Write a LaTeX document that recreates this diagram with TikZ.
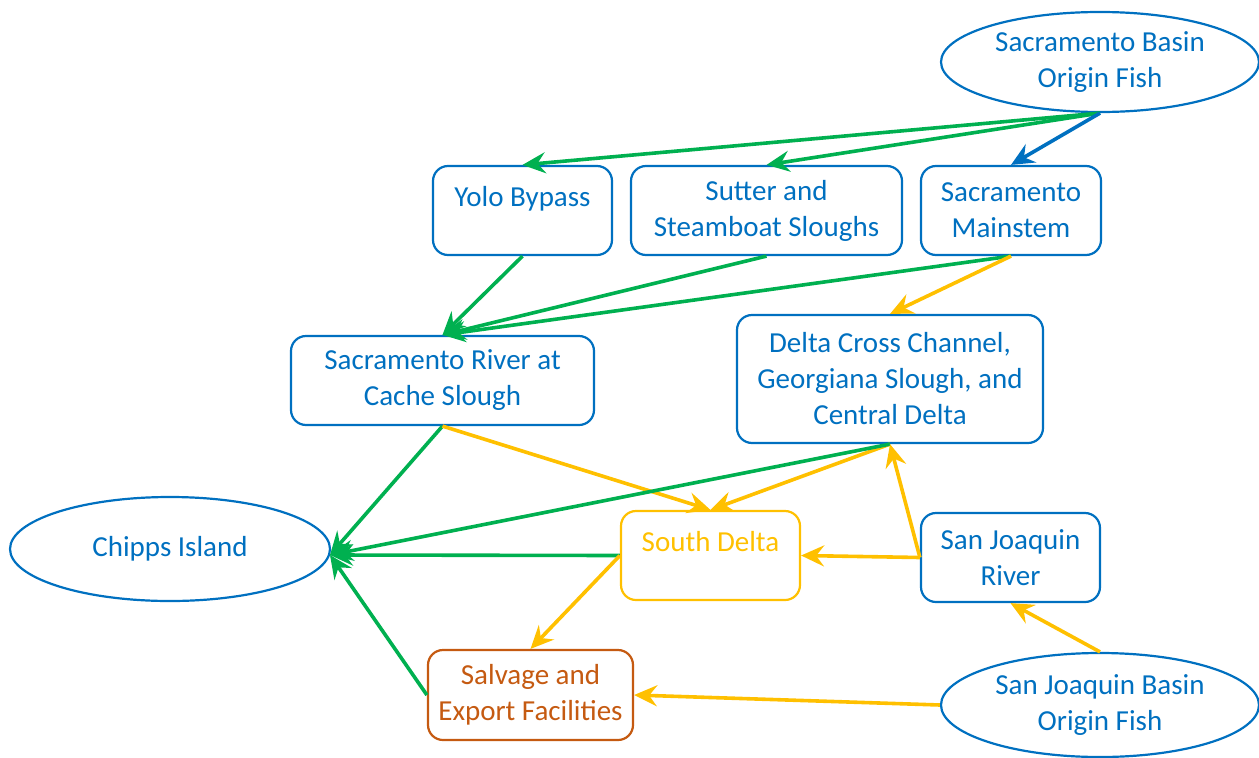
\documentclass[tikz,border=0pt]{standalone}
\usepackage{fontspec}
\setmainfont{Carlito}
\usetikzlibrary{shapes.geometric,arrows.meta}
\definecolor{cblue}{HTML}{0070C0}
\definecolor{cgreen}{HTML}{00B050}
\definecolor{cyellow}{HTML}{FFC000}
\definecolor{corange}{HTML}{C55A11}
\tikzset{
  box/.style={draw=cblue, text=cblue, line width=2.2pt, rounded corners=15pt, align=center, inner sep=0pt, font=\fontsize{29}{36}\selectfont},
  oval/.style={ellipse, draw=cblue, text=cblue, line width=2.2pt, align=center, inner sep=0pt, font=\fontsize{29}{36}\selectfont},
  link/.style={line width=3.6pt, -{Stealth[length=23pt,width=21pt,inset=8pt]}},
  gl/.style={link, draw=cgreen},
  yl/.style={link, draw=cyellow},
  bl/.style={link, draw=cblue},
}
\begin{document}
\begin{tikzpicture}[x=1pt,y=-1pt]
\useasboundingbox (0,0) rectangle (1259,758);
\node[oval, minimum width=318pt, minimum height=100pt] (sbo) at (1100,62) {Sacramento Basin\\Origin Fish};
\node[box, minimum width=179pt, minimum height=89pt] (yolo) at (522.5,210.5) {Yolo Bypass\\[-8pt]\mbox{}};
\node[box, minimum width=271pt, minimum height=89pt] (sutter) at (766.5,210.5) {Sutter and\\Steamboat Sloughs};
\node[box, minimum width=180pt, minimum height=89pt] (main) at (1011,210.5) {Sacramento\\Mainstem};
\node[box, minimum width=303pt, minimum height=89pt] (cache) at (442.5,380.5) {Sacramento River at\\Cache Slough};
\node[box, minimum width=306pt, minimum height=128pt] (dcc) at (890,379) {Delta Cross Channel,\\Georgiana Slough, and\\Central Delta};
\node[oval, minimum width=320pt, minimum height=104pt] (chipps) at (170,549) {Chipps Island};
\coordinate (ce) at (330,555);
\node[box, draw=cyellow, text=cyellow, minimum width=179pt, minimum height=89pt] (south) at (710.5,555.5) {South Delta\\[-8pt]\mbox{}};
\node[box, minimum width=179pt, minimum height=89pt] (sjr) at (1010.5,557.5) {San Joaquin\\River};
\node[box, draw=corange, text=corange, minimum width=205pt, minimum height=90pt] (salv) at (530.5,695) {Salvage and\\Export Facilities};
\node[oval, minimum width=318pt, minimum height=104pt] (sjb) at (1100,705) {San Joaquin Basin\\Origin Fish};

\draw[gl] (sbo.south) -- (yolo.north);
\draw[gl] (sbo.south) -- (sutter.north);
\draw[bl] (sbo.south) -- (main.north);
\draw[gl] (yolo.south) -- (cache.north);
\draw[gl] (sutter.south) -- (cache.north);
\draw[gl] (main.south) -- (cache.north);
\draw[yl] (main.south) -- (dcc.north);
\draw[gl] (cache.south) -- (ce);
\draw[yl] (cache.south) -- (south.north);
\draw[yl] (dcc.south) -- (south.north);
\draw[gl] (dcc.south) -- (ce);
\draw[yl] (sjr.west) -- (dcc.south);
\draw[yl] (sjr.west) -- (south.east);
\draw[gl] (south.west) -- (ce);
\draw[yl] (south.west) -- (salv.north);
\draw[gl] (salv.west) -- (ce);
\draw[yl] (sjb.north) -- (sjr.south);
\draw[yl] (sjb.west) -- (salv.east);
\end{tikzpicture}
\end{document}
